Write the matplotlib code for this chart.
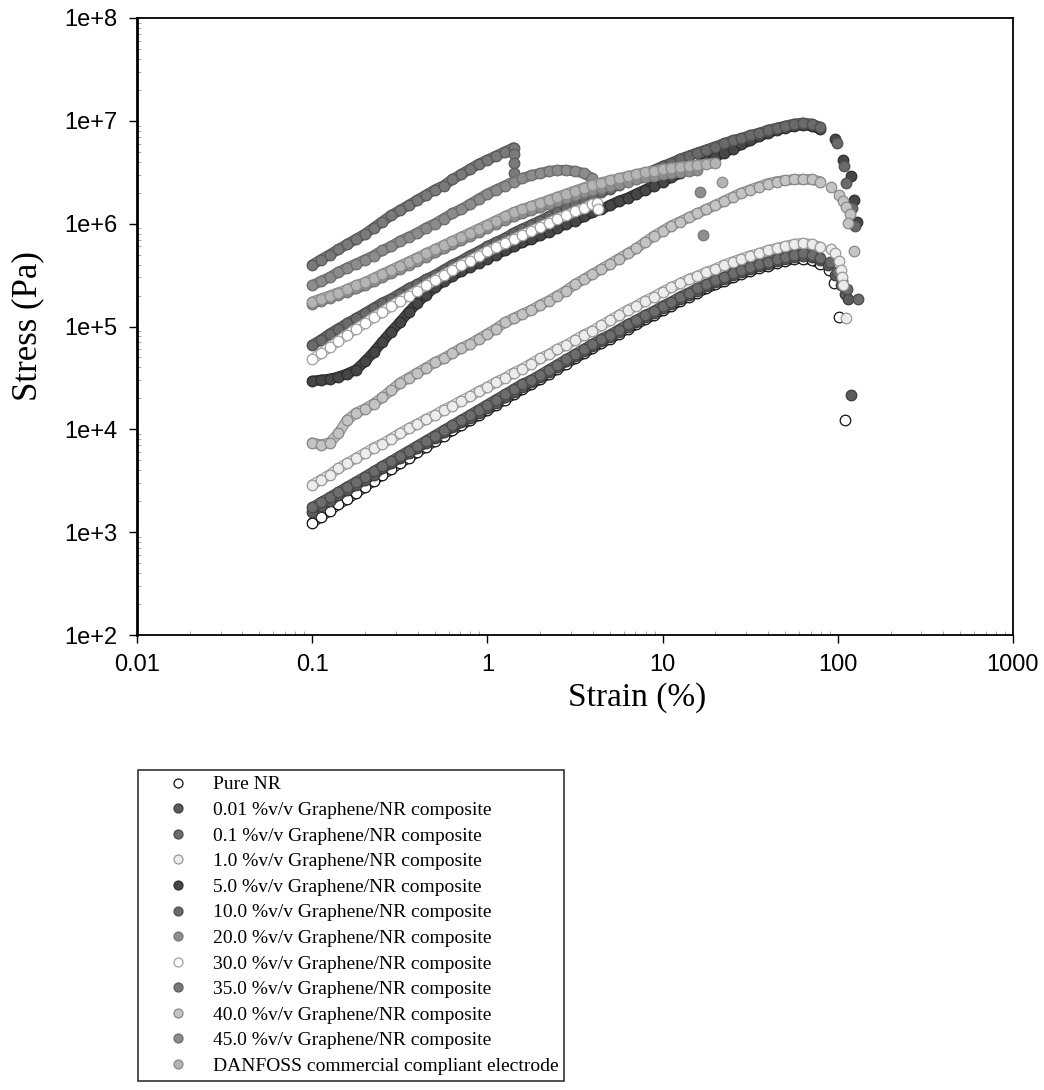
import numpy as np
import matplotlib
matplotlib.use('Agg')
import matplotlib.pyplot as plt
from matplotlib.ticker import FixedLocator, FuncFormatter, LogLocator, NullFormatter

# strain grid (%) of the sweep, 20 points per decade
strain = [0.1, 0.112, 0.126, 0.141, 0.158, 0.178, 0.2, 0.224, 0.251, 0.282,
          0.316, 0.355, 0.398, 0.447, 0.501, 0.562, 0.631, 0.708, 0.794, 0.891,
          1.0, 1.12, 1.26, 1.41, 1.58, 1.78, 2.0, 2.24, 2.51, 2.82,
          3.16, 3.55, 3.98, 4.47, 5.01, 5.62, 6.31, 7.08, 7.94, 8.91,
          10.0, 11.2, 12.6, 14.1, 15.8, 17.8, 20.0, 22.4, 25.1, 28.2,
          31.6, 35.5, 39.8, 44.7, 50.1, 56.2, 63.1, 70.8, 79.4]

# log10 of stress (Pa), one value per grid point
pure_nr = [3.09, 3.15, 3.21, 3.27, 3.32, 3.38, 3.44, 3.50, 3.56, 3.61,
           3.67, 3.72, 3.78, 3.83, 3.89, 3.94, 3.99, 4.04, 4.09, 4.14,
           4.19, 4.24, 4.29, 4.34, 4.39, 4.44, 4.49, 4.54, 4.59, 4.64,
           4.69, 4.74, 4.79, 4.84, 4.88, 4.93, 4.98, 5.02, 5.07, 5.11,
           5.16, 5.20, 5.25, 5.29, 5.33, 5.37, 5.41, 5.44, 5.48, 5.51,
           5.54, 5.57, 5.59, 5.62, 5.64, 5.66, 5.66, 5.65, 5.61]
g001 = [3.20, 3.25, 3.30, 3.36, 3.41, 3.46, 3.51, 3.56, 3.62, 3.67,
        3.72, 3.77, 3.82, 3.87, 3.92, 3.97, 4.02, 4.07, 4.11, 4.16,
        4.21, 4.26, 4.31, 4.36, 4.41, 4.46, 4.51, 4.56, 4.61, 4.66,
        4.71, 4.76, 4.81, 4.86, 4.90, 4.95, 5.00, 5.04, 5.09, 5.13,
        5.18, 5.22, 5.27, 5.31, 5.35, 5.39, 5.43, 5.46, 5.50, 5.53,
        5.56, 5.59, 5.61, 5.64, 5.66, 5.68, 5.69, 5.68, 5.65]
g01 = [3.24, 3.29, 3.34, 3.39, 3.44, 3.49, 3.54, 3.59, 3.64, 3.69,
       3.74, 3.79, 3.84, 3.89, 3.94, 3.99, 4.04, 4.09, 4.14, 4.19,
       4.24, 4.29, 4.34, 4.39, 4.44, 4.48, 4.53, 4.58, 4.63, 4.68,
       4.73, 4.78, 4.83, 4.88, 4.92, 4.97, 5.02, 5.06, 5.11, 5.15,
       5.20, 5.24, 5.29, 5.33, 5.37, 5.41, 5.45, 5.48, 5.52, 5.55,
       5.58, 5.61, 5.63, 5.66, 5.68, 5.70, 5.71, 5.70, 5.67]
g1 = [3.46, 3.51, 3.56, 3.62, 3.67, 3.72, 3.77, 3.82, 3.86, 3.91,
      3.96, 4.01, 4.05, 4.10, 4.14, 4.19, 4.23, 4.28, 4.32, 4.37,
      4.41, 4.46, 4.50, 4.55, 4.59, 4.64, 4.69, 4.73, 4.78, 4.82,
      4.87, 4.92, 4.96, 5.01, 5.06, 5.11, 5.16, 5.20, 5.25, 5.29,
      5.34, 5.38, 5.42, 5.46, 5.49, 5.53, 5.56, 5.60, 5.63, 5.66,
      5.69, 5.71, 5.74, 5.76, 5.78, 5.80, 5.81, 5.80, 5.77]
g5 = [4.47, 4.48, 4.49, 4.51, 4.54, 4.58, 4.66, 4.75, 4.85, 4.95,
      5.04, 5.14, 5.23, 5.31, 5.38, 5.44, 5.49, 5.54, 5.58, 5.62,
      5.66, 5.70, 5.74, 5.78, 5.82, 5.85, 5.89, 5.92, 5.96, 6.00,
      6.03, 6.07, 6.11, 6.14, 6.18, 6.22, 6.25, 6.29, 6.33, 6.37,
      6.41, 6.45, 6.49, 6.53, 6.57, 6.61, 6.65, 6.69, 6.73, 6.77,
      6.81, 6.85, 6.88, 6.91, 6.93, 6.95, 6.96, 6.95, 6.92]
g10 = [4.82, 4.87, 4.93, 4.98, 5.03, 5.08, 5.13, 5.18, 5.23, 5.27,
       5.32, 5.37, 5.41, 5.46, 5.50, 5.55, 5.60, 5.64, 5.69, 5.73,
       5.78, 5.82, 5.86, 5.91, 5.95, 5.99, 6.03, 6.07, 6.11, 6.15,
       6.19, 6.23, 6.27, 6.31, 6.34, 6.38, 6.42, 6.45, 6.49, 6.52,
       6.56, 6.59, 6.63, 6.66, 6.69, 6.72, 6.75, 6.78, 6.81, 6.83,
       6.86, 6.88, 6.91, 6.93, 6.95, 6.97, 6.98, 6.97, 6.94]
g20 = [5.22, 5.25, 5.28, 5.31, 5.34, 5.37, 5.40, 5.44, 5.48, 5.52,
       5.56, 5.60, 5.64, 5.68, 5.72, 5.76, 5.80, 5.84, 5.88, 5.92,
       5.96, 6.00, 6.04, 6.07, 6.10, 6.13, 6.16, 6.19, 6.22, 6.25,
       6.28, 6.31, 6.33, 6.35, 6.37, 6.39, 6.41, 6.43, 6.45, 6.46,
       6.48, 6.49, 6.50, 6.51, 6.52]
g30 = [4.68, 4.74, 4.80, 4.86, 4.92, 4.98, 5.03, 5.09, 5.14, 5.20,
       5.25, 5.30, 5.35, 5.40, 5.45, 5.50, 5.55, 5.60, 5.64, 5.69,
       5.73, 5.77, 5.81, 5.85, 5.89, 5.93, 5.97, 6.01, 6.05, 6.08,
       6.12, 6.15, 6.19]
g35 = [5.60, 5.65, 5.70, 5.75, 5.80, 5.85, 5.90, 5.96, 6.02, 6.08,
       6.13, 6.18, 6.23, 6.28, 6.33, 6.37, 6.43, 6.48, 6.53, 6.58,
       6.62, 6.66, 6.70, 6.74]
g40 = [3.87, 3.85, 3.87, 3.96, 4.09, 4.16, 4.20, 4.25, 4.31, 4.38,
       4.45, 4.50, 4.55, 4.60, 4.65, 4.69, 4.74, 4.79, 4.83, 4.88,
       4.93, 4.98, 5.04, 5.08, 5.12, 5.16, 5.21, 5.25, 5.30, 5.35,
       5.41, 5.46, 5.51, 5.56, 5.61, 5.66, 5.71, 5.76, 5.82, 5.88,
       5.93, 5.98, 6.02, 6.06, 6.10, 6.14, 6.18, 6.22, 6.26, 6.30,
       6.33, 6.36, 6.39, 6.41, 6.42, 6.43, 6.43, 6.43, 6.41]
g45 = [5.40, 5.44, 5.48, 5.53, 5.57, 5.61, 5.65, 5.69, 5.74, 5.78,
       5.83, 5.87, 5.91, 5.96, 6.00, 6.05, 6.10, 6.14, 6.19, 6.24,
       6.29, 6.33, 6.37, 6.41, 6.44, 6.47, 6.49, 6.51, 6.52, 6.52,
       6.51, 6.49, 6.44]
danfoss = [5.24, 5.27, 5.30, 5.33, 5.36, 5.40, 5.43, 5.47, 5.51, 5.55,
           5.59, 5.63, 5.67, 5.71, 5.75, 5.79, 5.83, 5.87, 5.91, 5.95,
           5.99, 6.03, 6.07, 6.11, 6.14, 6.17, 6.20, 6.23, 6.26, 6.29,
           6.32, 6.35, 6.38, 6.40, 6.42, 6.44, 6.46, 6.48, 6.50, 6.51,
           6.53, 6.54, 6.55, 6.56, 6.57, 6.58, 6.59]

# failure tails: strain (%) and log10 stress after the sweep points
tail_x = {
    'pure': [89, 95, 101, 110],
    '001': [88, 97, 104, 110, 114, 119],
    '01': [90, 99, 106, 113, 131],
    '1': [92, 97, 102, 104, 105, 107, 112],
    '5': [97, 107, 119, 123, 128],
    '10': [99, 108, 112, 120, 126],
    '20': [16.3, 17.0],
    '30': [4.2, 4.3],
    '35': [1.42, 1.42, 1.42],
    '40': [92, 101, 107, 112, 117, 115, 124],
    '45': [],
    'danfoss': [21.7],
}
tail_y = {
    'pure': [5.55, 5.42, 5.09, 4.09],
    '001': [5.60, 5.50, 5.40, 5.32, 5.27, 4.33],
    '01': [5.63, 5.53, 5.44, 5.36, 5.27],
    '1': [5.75, 5.71, 5.64, 5.55, 5.48, 5.40, 5.08],
    '5': [6.82, 6.62, 6.46, 6.23, 6.02],
    '10': [6.78, 6.56, 6.40, 6.15, 5.98],
    '20': [6.31, 5.89],
    '30': [6.20, 6.14],
    '35': [6.68, 6.59, 6.49],
    '40': [6.36, 6.28, 6.22, 6.16, 6.09, 6.01, 5.73],
    '45': [],
    'danfoss': [6.41],
}

labels = ['Pure NR',
          '0.01 %v/v Graphene/NR composite',
          '0.1 %v/v Graphene/NR composite',
          '1.0 %v/v Graphene/NR composite',
          '5.0 %v/v Graphene/NR composite',
          '10.0 %v/v Graphene/NR composite',
          '20.0 %v/v Graphene/NR composite',
          '30.0 %v/v Graphene/NR composite',
          '35.0 %v/v Graphene/NR composite',
          '40.0 %v/v Graphene/NR composite',
          '45.0 %v/v Graphene/NR composite',
          'DANFOSS commercial compliant electrode']
keys = ['pure', '001', '01', '1', '5', '10', '20', '30', '35', '40', '45', 'danfoss']
series = [pure_nr, g001, g01, g1, g5, g10, g20, g30, g35, g40, g45, danfoss]
faces = ['white', '#5c5c5c', '#6c6c6c', '#ececec', '#464646', '#6a6a6a',
         '#8e8e8e', 'white', '#7a7a7a', '#c4c4c4', '#8c8c8c', '#b4b4b4']
edges = ['#111111', '#3c3c3c', '#4a4a4a', '#999999', '#2e2e2e', '#505050',
         '#777777', '#a0a0a0', '#5a5a5a', '#8a8a8a', '#6e6e6e', '#8c8c8c']

MS = 7.6

fig = plt.figure(figsize=(10.44, 10.9), dpi=100)
ax = fig.add_axes([137 / 1044, 1 - 635 / 1090, 876 / 1044, 617 / 1090])

for key, vals, lab, fc, ec in zip(keys, series, labels, faces, edges):
    xs = np.array(strain[:len(vals)])
    ys = 10 ** np.array(vals)
    # dense run of overlapping circles: a tube under the markers
    ax.plot(xs, ys, '-', color=ec, lw=MS, solid_capstyle='round', solid_joinstyle='round')
    ax.plot(xs, ys, '-', color=fc, lw=MS - 1.6, solid_capstyle='round', solid_joinstyle='round')
    x = np.concatenate([xs, tail_x[key]])
    y = np.concatenate([ys, 10 ** np.array(tail_y[key], dtype=float)])
    ax.plot(x, y, 'o', ls='none', ms=MS, mfc=fc, mec=ec, mew=0.9, label=lab)

ax.set_xscale('log')
ax.set_yscale('log')
ax.set_xlim(0.01, 1000)
ax.set_ylim(1e2, 1e8)

ax.xaxis.set_major_locator(FixedLocator([0.01, 0.1, 1, 10, 100, 1000]))
ax.xaxis.set_major_formatter(FuncFormatter(lambda v, p: '%g' % v))
ax.yaxis.set_major_locator(FixedLocator([1e2, 1e3, 1e4, 1e5, 1e6, 1e7, 1e8]))
ax.yaxis.set_major_formatter(FuncFormatter(lambda v, p: '1e+%d' % round(np.log10(v))))
ax.xaxis.set_minor_locator(LogLocator(base=10, subs=np.arange(2, 10)))
ax.yaxis.set_minor_locator(LogLocator(base=10, subs=np.arange(2, 10)))
ax.xaxis.set_minor_formatter(NullFormatter())
ax.yaxis.set_minor_formatter(NullFormatter())

ax.tick_params(which='major', direction='out', length=6, width=1.0, labelsize=17)
ax.tick_params(axis='x', which='major', pad=8)
ax.tick_params(axis='y', which='major', pad=8)
ax.tick_params(which='minor', direction='in', length=3, width=0.6, color='#9a9a9a')
for lab in ax.get_xticklabels() + ax.get_yticklabels():
    lab.set_family('Liberation Sans')
for sp in ax.spines.values():
    sp.set_linewidth(1.3)
ax.spines['left'].set_linewidth(2.0)

ax.set_xlabel('Strain (%)', family='Liberation Serif', fontsize=24)
ax.set_ylabel('Stress (Pa)', family='Liberation Serif', fontsize=25)
ax.xaxis.set_label_coords((637 - 137) / 876, -0.076)
ax.yaxis.set_label_coords(-0.106, 0.5)

leg = fig.legend(loc='upper left', bbox_to_anchor=(138 / 1044, 1 - 770 / 1090),
                 prop={'family': 'Liberation Serif', 'size': 14},
                 frameon=True, fancybox=False, borderpad=0.3, borderaxespad=0,
                 handlelength=3.5, handletextpad=0.05, labelspacing=0.41,
                 markerscale=0.85)
leg.get_frame().set_edgecolor('black')
leg.get_frame().set_linewidth(1.2)

fig.savefig('out.png', dpi=100)
